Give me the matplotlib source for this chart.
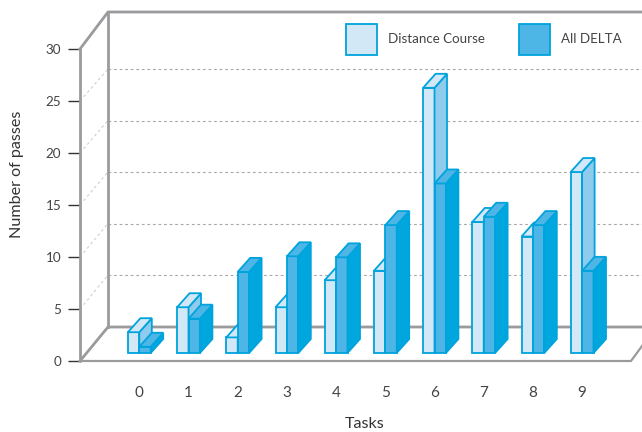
"""Wykres slupkowy 3D: liczba zaliczen wedlug zadan."""

import matplotlib
matplotlib.use("Agg")
import matplotlib.pyplot as plt
from matplotlib.patches import Patch, Polygon

zadania = [0, 1, 2, 3, 4, 5, 6, 7, 8, 9]
distance_course = [2.0, 4.4, 1.5, 4.4, 7.0, 7.9, 25.5, 12.6, 11.2, 17.4]
all_delta = [0.6, 3.3, 7.8, 9.3, 9.2, 12.3, 16.3, 13.1, 12.3, 7.9]
ticki_y = [0, 5, 10, 15, 20, 25, 30]

JASNY = "#D2E8F7"
JASNY_BOK = "#8FCBEC"
SREDNI = "#4DB6E6"
CIEMNY = "#00A7DE"
KRAWEDZ = "#00A3DC"
SZARY = "#9B9B9E"

SZER, WYS = 642, 432
X0, KROK_X = 139.3, 49.2
Y0, KROK_Y = 361.0, 10.4


def dane_x(px):
    return (px - X0) / KROK_X


def dane_y(py):
    return (Y0 - py) / KROK_Y


def linia_px(os, xs, ys, **opcje):
    os.plot([dane_x(x) for x in xs], [dane_y(y) for y in ys], clip_on=False, **opcje)


plt.rcParams["font.family"] = ["Lato", "DejaVu Sans"]

figura = plt.figure(figsize=(SZER / 100, WYS / 100), dpi=100)
os = figura.add_axes([80 / SZER, 1 - 361 / WYS, (SZER - 80) / SZER, (361 - 49) / WYS])
os.set_xlim(dane_x(80), dane_x(SZER))
os.set_ylim(0, 30)

# sciany i podloga
for wartosc in ticki_y[1:-1]:
    y_tyl = 326.5 - wartosc * 10.3
    y_przod = Y0 - wartosc * KROK_Y
    linia_px(os, [108, SZER], [y_tyl, y_tyl], color="#A8A8A8", lw=0.8, ls=(0, (2.5, 2.5)), zorder=1)
    linia_px(os, [80, 108], [y_przod, y_tyl], color="#CFCFCF", lw=0.8, ls=(0, (2.5, 2.5)), zorder=1)

linia_px(os, [80, 80], [361, 49], color=SZARY, lw=2, zorder=2, solid_capstyle="round")
linia_px(os, [80, 108, 642], [49, 12, 12], color=SZARY, lw=2, zorder=2)
linia_px(os, [108, 108], [12, 327], color=SZARY, lw=2, zorder=2)
linia_px(os, [80, 108, 642], [361, 327, 327], color=SZARY, lw=2, zorder=2)
linia_px(os, [80, 631, 642], [361, 361, 346], color=SZARY, lw=1.6, zorder=2)

# slupki
szerokosc = 11.4 / KROK_X
gleb_x = 12.5 / KROK_X
gleb_y = 14 / KROK_Y
podstawa = dane_y(353)
rzad = 3


def rysuj_slupek(srodek, wartosc, przod, bok, gora):
    global rzad
    lewy = srodek - szerokosc / 2
    prawy = srodek + szerokosc / 2
    szczyt = podstawa + wartosc
    os.bar(srodek, wartosc, szerokosc, bottom=podstawa, color=przod,
           edgecolor=KRAWEDZ, linewidth=1.3, zorder=rzad)
    os.add_patch(Polygon(
        [(prawy, podstawa), (prawy + gleb_x, podstawa + gleb_y),
         (prawy + gleb_x, szczyt + gleb_y), (prawy, szczyt)],
        facecolor=bok, edgecolor=KRAWEDZ, linewidth=1.3, zorder=rzad))
    os.add_patch(Polygon(
        [(lewy, szczyt), (prawy, szczyt), (prawy + gleb_x, szczyt + gleb_y),
         (lewy + gleb_x, szczyt + gleb_y)],
        facecolor=gora, edgecolor=KRAWEDZ, linewidth=1.3, zorder=rzad))
    rzad += 1


for zadanie, jeden, dwa in zip(zadania, distance_course, all_delta):
    rysuj_slupek(zadanie - szerokosc / 2, jeden, JASNY, JASNY_BOK, JASNY)
    rysuj_slupek(zadanie + szerokosc / 2, dwa, SREDNI, CIEMNY, SREDNI)

# osie
for strona in os.spines.values():
    strona.set_visible(False)
os.patch.set_alpha(0)
os.set_yticks(ticki_y)
os.set_xticks(zadania)
os.tick_params(axis="y", length=8.5, width=1, color="#333333", labelsize=9.7,
               labelcolor="#444444", pad=5)
os.tick_params(axis="x", length=0, labelsize=11, labelcolor="#444444", pad=18)
figura.text(17 / SZER, 1 - 174 / WYS, "Number of passes", rotation=90, ha="center",
            va="center", fontsize=11.6, color="#333333")
figura.text(365 / SZER, 1 - 424 / WYS, "Tasks", ha="center", va="center",
            fontsize=11.6, color="#333333")

rozmiar = 9.6
os.legend(
    handles=[
        Patch(facecolor=JASNY, edgecolor=KRAWEDZ, linewidth=1.3, label="Distance Course"),
        Patch(facecolor=SREDNI, edgecolor=KRAWEDZ, linewidth=1.3, label="All DELTA"),
    ],
    ncol=2, frameon=False, fontsize=rozmiar, labelcolor="#444444",
    handlelength=22.3 / rozmiar, handleheight=(22.3 / rozmiar - 0.245) / 0.65,
    handletextpad=8 / rozmiar, columnspacing=24.5 / rozmiar,
    borderpad=0, borderaxespad=0, loc="upper left",
    bbox_to_anchor=(346 / SZER, 1 - 24 / WYS), bbox_transform=figura.transFigure,
)

figura.savefig("out.png", dpi=100)
